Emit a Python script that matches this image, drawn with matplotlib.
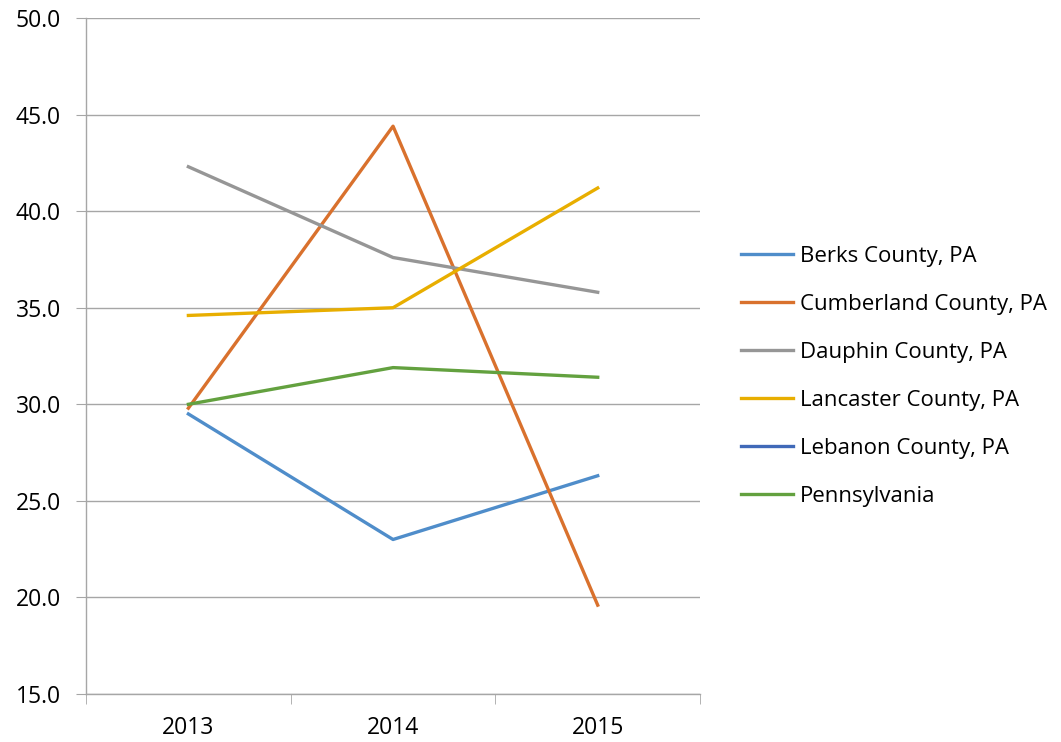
import numpy as np
import matplotlib
matplotlib.use("Agg")
import matplotlib.pyplot as plt

plt.rcParams['font.family'] = ['Open Sans', 'DejaVu Sans']

years = ["2013", "2014", "2015"]
berks = [29.5, 23.0, 26.3]
cumberland = [29.8, 44.4, 19.6]
dauphin = [42.3, 37.6, 35.8]
lancaster = [34.6, 35.0, 41.2]
lebanon = [np.nan, np.nan, np.nan]
pennsylvania = [30.0, 31.9, 31.4]

series = [
    ("Berks County, PA", berks, "#4F8DCA"),
    ("Cumberland County, PA", cumberland, "#D9712D"),
    ("Dauphin County, PA", dauphin, "#969696"),
    ("Lancaster County, PA", lancaster, "#E8AE00"),
    ("Lebanon County, PA", lebanon, "#4069B8"),
    ("Pennsylvania", pennsylvania, "#63A13F"),
]

fig = plt.figure(figsize=(10.61, 7.42), dpi=100)
ax = fig.add_axes([0.0811, 0.0647, 0.5787, 0.911])

x = np.arange(len(years))
for name, vals, color in series:
    ax.plot(x, vals, color=color, lw=2.4, label=name)

ax.set_xlim(-0.5, len(years) - 0.5)
ax.set_ylim(15, 50)
yt = np.arange(15, 50.1, 5)
ax.set_yticks(yt)
ax.set_yticklabels([f"{v:.1f}" for v in yt])
ax.set_xticks(x)
ax.set_xticklabels(years)
ax.set_xticks(np.arange(-0.5, len(years)), minor=True)

grid_c = "#A6A6A6"
ax.yaxis.grid(True, color=grid_c, lw=1.0)
ax.set_axisbelow(True)
for s in ["top", "right"]:
    ax.spines[s].set_visible(False)
for s in ["left", "bottom"]:
    ax.spines[s].set_color(grid_c)
    ax.spines[s].set_linewidth(1.0)

ax.tick_params(axis="y", length=7, color=grid_c, labelsize=16.5, pad=11)
ax.tick_params(axis="x", which="major", length=0, labelsize=16.5, pad=16)
ax.tick_params(axis="x", which="minor", length=7, color=grid_c, direction="out")

fig.legend(loc="center left", bbox_to_anchor=(0.6984, 0.4926), frameon=False,
           fontsize=16, handlelength=2.35, handletextpad=0.32,
           labelspacing=1.22, borderpad=0, borderaxespad=0)

fig.savefig("out.png", dpi=100)
